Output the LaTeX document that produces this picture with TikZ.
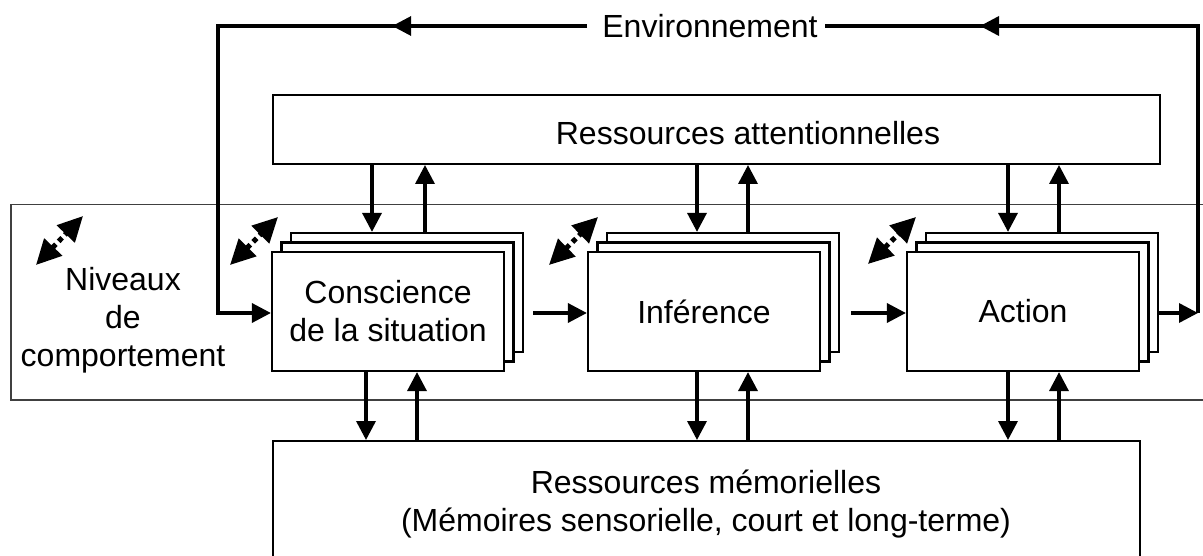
\documentclass[tikz,border=0pt]{standalone}
\usepackage{fontspec}
\setmainfont{Liberation Sans}
\usetikzlibrary{arrows.meta,decorations.markings}

\begin{document}
\begin{tikzpicture}[x=1pt,y=-1pt,
  font=\fontsize{32}{38}\selectfont,
  card/.style={draw, line width=2.2pt, fill=white, minimum width=232pt,
    minimum height=119pt, inner sep=0pt, align=center},
  res/.style={draw, line width=2pt, inner sep=0pt, anchor=north west},
  lbl/.style={inner sep=0pt, align=center},
  tip/.style={-{Triangle[length=19pt,width=19pt]}},
  arr/.style={line width=3.5pt, tip},
  wire/.style={line width=3.5pt},
  mid/.style={postaction={decorate}, decoration={markings,
    mark=at position #1 with {\arrow{Triangle[length=19pt,width=19pt]}}}},
  dbl/.style={line width=5pt, dash pattern=on 5pt off 4pt,
    {Triangle[length=25pt,width=24pt]}-{Triangle[length=25pt,width=24pt]}},
]
\useasboundingbox (0,0) rectangle (1203,556);

% behaviour-level frame
\node[draw=black!75, line width=1.5pt, minimum width=1210pt, minimum height=195pt,
  inner sep=0pt, anchor=north west] (lvl) at (10,204) {};
\node[lbl] (lvltxt) at (123,320) {Niveaux\\de\\comportement};

% resource boxes
\node[res, minimum width=887pt, minimum height=69pt] (att) at (272,94) {};
\node[lbl] (atttxt) at (748,133) {Ressources attentionnelles};
\node[res, minimum width=867pt, minimum height=140pt] (mem) at (272,440) {};
\node[lbl] (memtxt) at (706,504) {Ressources mémorielles\\(Mémoires sensorielle, court et long-terme)};

% stacked processing stages
\node[card] (cs3) at (407,292.5) {};
\node[card] (cs2) at (397.5,302) {};
\node[card] (cs) at (388,311.5) {Conscience\\de la situation};

\node[card] (inf3) at (723,292.5) {};
\node[card] (inf2) at (713.5,302) {};
\node[card] (inf) at (704,311.5) {Inférence};

\node[card] (act3) at (1042,292.5) {};
\node[card] (act2) at (1032.5,302) {};
\node[card] (act) at (1023,311.5) {Action};

% environment loop
\node[lbl] (env) at (710,26) {Environnement};
\coordinate (er) at (1198,26);
\coordinate (el) at (218,26);
\coordinate (hy) at (0,313);

\draw[arr] (act3.east |- hy) -- (er |- hy);
\draw[wire, mid=505pt] (er |- hy) -- (er) -- ([xshift=7pt]env.east);
\draw[arr, mid=195pt] ([xshift=-15pt]env.west) -- (el) -- (el |- hy) -- (cs.west |- hy);

% stage to stage
\draw[arr, shorten <=9pt] (cs3.east |- hy) -- (inf.west |- hy);
\draw[arr, shorten <=11pt] (inf3.east |- hy) -- (act.west |- hy);

% links with attentional resources
\coordinate (ca) at (372,0);  \coordinate (cb) at (425,0);
\coordinate (ia) at (697,0);  \coordinate (ib) at (748,0);
\coordinate (aa) at (1008,0); \coordinate (ab) at (1059,0);
\draw[arr] (att.south -| ca) -- (cs3.north -| ca);
\draw[arr] (cs3.north -| cb) -- (att.south -| cb);
\draw[arr] (att.south -| ia) -- (inf3.north -| ia);
\draw[arr] (inf3.north -| ib) -- (att.south -| ib);
\draw[arr] (att.south -| aa) -- (act3.north -| aa);
\draw[arr] (act3.north -| ab) -- (att.south -| ab);

% links with memory resources
\coordinate (cm) at (366,0);  \coordinate (cn) at (417,0);
\draw[arr] (cs.south -| cm) -- (mem.north -| cm);
\draw[arr] (mem.north -| cn) -- (cs.south -| cn);
\draw[arr] (inf.south -| ia) -- (mem.north -| ia);
\draw[arr] (mem.north -| ib) -- (inf.south -| ib);
\draw[arr] (act.south -| aa) -- (mem.north -| aa);
\draw[arr] (mem.north -| ab) -- (act.south -| ab);

% level switches
\coordinate (d0s) at (36,265);  \coordinate (d0e) at (83,216);
\coordinate (d1s) at (230,265); \coordinate (d1e) at (278,217);
\coordinate (d2s) at (549,265); \coordinate (d2e) at (598,217);
\coordinate (d3s) at (868,264); \coordinate (d3e) at (916,217);
\draw[dbl] (d0s) -- (d0e);
\draw[dbl] (d1s) -- (d1e);
\draw[dbl] (d2s) -- (d2e);
\draw[dbl] (d3s) -- (d3e);
\end{tikzpicture}
\end{document}
